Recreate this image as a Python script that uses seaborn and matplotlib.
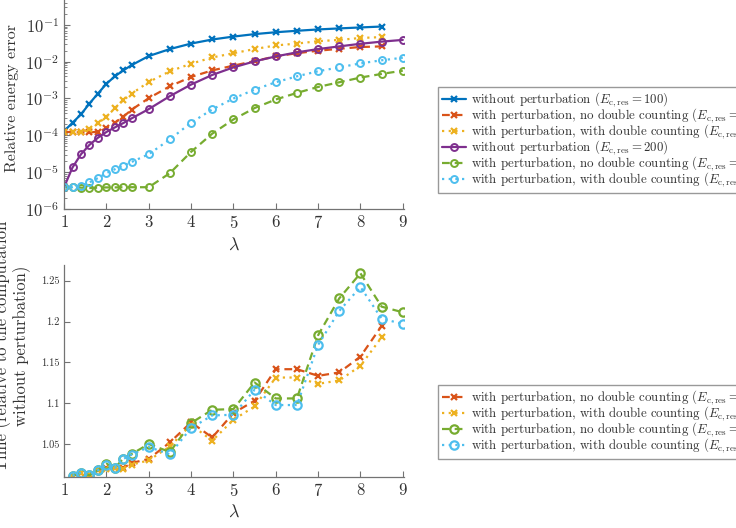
import matplotlib
matplotlib.use("Agg")
import matplotlib.pyplot as plt
import seaborn as sns
import pandas as pd

# Datos
lam = [1, 1.2, 1.4, 1.6, 1.8, 2, 2.2, 2.4, 2.6, 3, 3.5, 4, 4.5, 5, 5.5, 6, 6.5, 7, 7.5, 8, 8.5, 9]

err_sin_100 = [1.3e-4, 2.2e-4, 3.7e-4, 7.3e-4, 1.36e-3, 2.5e-3, 4.0e-3, 5.8e-3, 8.1e-3, 1.42e-2, 2.2e-2,
               3.1e-2, 4.0e-2, 4.8e-2, 5.6e-2, 6.3e-2, 6.9e-2, 7.5e-2, 8.0e-2, 8.5e-2, 9.0e-2]
err_nodc_100 = [1.23e-4, 1.23e-4, 1.2e-4, 1.2e-4, 1.25e-4, 1.55e-4, 2.2e-4, 3.2e-4, 5.0e-4, 1.02e-3, 2.15e-3,
                3.85e-3, 5.8e-3, 7.8e-3, 1.04e-2, 1.39e-2, 1.7e-2, 1.98e-2, 2.24e-2, 2.5e-2, 2.6e-2]
err_dc_100 = [1.23e-4, 1.23e-4, 1.23e-4, 1.45e-4, 2.1e-4, 3.2e-4, 5.4e-4, 9.0e-4, 1.36e-3, 2.8e-3, 5.5e-3,
              8.8e-3, 1.3e-2, 1.7e-2, 2.2e-2, 2.76e-2, 3.1e-2, 3.6e-2, 3.9e-2, 4.4e-2, 4.65e-2]
err_sin_200 = [3.9e-6, 1.34e-5, 3.06e-5, 5.5e-5, 8.6e-5, 1.23e-4, 1.64e-4, 2.15e-4, 2.9e-4, 5.15e-4, 1.16e-3,
               2.39e-3, 4.36e-3, 7.0e-3, 1.02e-2, 1.39e-2, 1.79e-2, 2.2e-2, 2.6e-2, 3.06e-2, 3.5e-2, 3.9e-2]
err_nodc_200 = [3.9e-6, 3.85e-6, 3.8e-6, 3.7e-6, 3.8e-6, 3.85e-6, 3.85e-6, 3.9e-6, 3.9e-6, 3.9e-6, 9.4e-6,
                3.55e-5, 1.11e-4, 2.7e-4, 5.5e-4, 9.4e-4, 1.42e-3, 2.06e-3, 2.76e-3, 3.7e-3, 4.65e-3, 5.7e-3]
err_dc_200 = [3.9e-6, 3.9e-6, 4.27e-6, 5.25e-6, 6.9e-6, 9.4e-6, 1.2e-5, 1.51e-5, 1.9e-5, 3.06e-5, 7.8e-5,
              2.2e-4, 5.05e-4, 1.0e-3, 1.75e-3, 2.76e-3, 4.0e-3, 5.5e-3, 7.0e-3, 9.0e-3, 1.09e-2, 1.28e-2]

lam_t = lam[1:]
t_nodc_100 = [1.0113, 1.0146, 1.0117, 1.0178, 1.021, 1.0207, 1.0207, 1.0268, 1.0317, 1.052, 1.0765,
              1.058, 1.0879, 1.103, 1.1416, 1.1416, 1.1335, 1.1376, 1.1571, 1.1946]
t_dc_100 = [1.0113, 1.0146, 1.0117, 1.0178, 1.020, 1.0205, 1.0195, 1.0247, 1.030, 1.047, 1.0736,
            1.054, 1.0797, 1.096, 1.1314, 1.1314, 1.1237, 1.1278, 1.1457, 1.1807]
t_nodc_200 = [1.0113, 1.0146, 1.0117, 1.0178, 1.026, 1.0207, 1.0321, 1.0378, 1.050, 1.0402, 1.0757,
              1.0919, 1.0928, 1.1253, 1.1058, 1.1058, 1.1832, 1.2284, 1.259, 1.2182, 1.2113]
t_dc_200 = [1.0113, 1.0146, 1.0117, 1.0178, 1.0247, 1.0207, 1.0317, 1.037, 1.0463, 1.0374, 1.0696,
            1.085, 1.0858, 1.1164, 1.0977, 1.0977, 1.1714, 1.213, 1.2423, 1.2036, 1.197]

yticks_err = [1e-6, 1e-5, 1e-4, 1e-3, 1e-2, 1e-1]
yticks_t = [1.05, 1.1, 1.15, 1.2, 1.25]
yticklabels_t = ["1.05", "1.1", "1.15", "1.2", "1.25"]

lbl_sin_100 = r"without perturbation ($E_{\mathrm{c,res}} = 100$)"
lbl_nodc_100 = r"with perturbation, no double counting ($E_{\mathrm{c,res}} = 100$)"
lbl_dc_100 = r"with perturbation, with double counting ($E_{\mathrm{c,res}} = 100$)"
lbl_sin_200 = r"without perturbation ($E_{\mathrm{c,res}} = 200$)"
lbl_nodc_200 = r"with perturbation, no double counting ($E_{\mathrm{c,res}} = 200$)"
lbl_dc_200 = r"with perturbation, with double counting ($E_{\mathrm{c,res}} = 200$)"

azul, rojo, amarillo = "#0072BD", "#D95319", "#EDB120"
morado, verde, celeste = "#7E2F8E", "#77AC30", "#4DBEEE"
guion = (0, (3.5, 2.2))
punto = (0, (1, 2))

sns.set_theme(style="ticks")
plt.rcParams["font.family"] = ["cmr10", "DejaVu Serif"]
plt.rcParams["mathtext.fontset"] = "cm"
plt.rcParams["axes.formatter.use_mathtext"] = True
plt.rcParams["axes.unicode_minus"] = False

gris = "0.45"
texto = "0.2"

fig = plt.figure(figsize=(7.36, 5.28), dpi=100)
ax1 = fig.add_axes([0.087, 0.6042, 0.462, 0.4185])
ax2 = fig.add_axes([0.087, 0.0966, 0.462, 0.4015])


def serie(ax, x, y, color, ls, marker, label, ms, mew):
    df = pd.DataFrame({"x": x, "y": y})
    sns.lineplot(data=df, x="x", y="y", ax=ax, color=color, linestyle=ls, marker=marker,
                 markersize=ms, markeredgecolor=color, markerfacecolor="none",
                 markeredgewidth=mew, linewidth=1.6, label=label, legend=False)


# Gráfica superior: error relativo
serie(ax1, lam[:21], err_sin_100, azul, "-", "x", lbl_sin_100, 4, 1.6)
serie(ax1, lam[:21], err_nodc_100, rojo, guion, "x", lbl_nodc_100, 4, 1.6)
serie(ax1, lam[:21], err_dc_100, amarillo, punto, "x", lbl_dc_100, 4, 1.6)
serie(ax1, lam, err_sin_200, morado, "-", "o", lbl_sin_200, 5, 1.4)
serie(ax1, lam, err_nodc_200, verde, guion, "o", lbl_nodc_200, 5, 1.4)
serie(ax1, lam, err_dc_200, celeste, punto, "o", lbl_dc_200, 5, 1.4)
ax1.set_yscale("log")
ax1.set_ylim(1e-6, 1)
ax1.set_yticks(yticks_err)
ax1.set_xlim(1, 9.03)
ax1.set_ylabel("Relative energy error", fontsize=11.5, color=texto)
ax1.set_xlabel(r"$\lambda$", fontsize=13, color=texto)

# Gráfica inferior: tiempo relativo
serie(ax2, lam_t[:20], t_nodc_100, rojo, guion, "x", lbl_nodc_100, 4.5, 1.6)
serie(ax2, lam_t[:20], t_dc_100, amarillo, punto, "x", lbl_dc_100, 4.5, 1.6)
serie(ax2, lam_t, t_nodc_200, verde, guion, "o", lbl_nodc_200, 6, 1.6)
serie(ax2, lam_t, t_dc_200, celeste, punto, "o", lbl_dc_200, 6, 1.6)
ax2.set_ylim(1.0096, 1.2692)
ax2.set_xlim(1, 9.03)
ax2.set_yticks(yticks_t)
ax2.set_yticklabels(yticklabels_t)
ax2.set_ylabel("Time (relative to the computation\nwithout perturbation)", fontsize=12,
               color=texto, linespacing=1.1)
ax2.set_xlabel(r"$\lambda$", fontsize=13, color=texto)
ax2.tick_params(axis="y", labelsize=7.5)
ax2.yaxis.set_label_coords(-0.1, 0.62)
ax1.yaxis.set_label_coords(-0.132, 0.5)

for ax in (ax1, ax2):
    ax.set_xticks(range(1, 10))
    sns.despine(ax=ax)
    for s in ("left", "bottom"):
        ax.spines[s].set_color(gris)
        ax.spines[s].set_linewidth(0.9)
    ax.tick_params(which="both", direction="in", color=gris, labelcolor=texto)
    ax.tick_params(which="major", length=4, width=0.8)
    ax.tick_params(which="minor", length=2.2, width=0.6)
    ax.tick_params(axis="x", labelsize=12)
ax1.tick_params(axis="y", which="major", labelsize=12)
ax2.xaxis.labelpad = 3

leg_kw = dict(loc="upper left", fontsize=9.3, frameon=True, fancybox=False, framealpha=1,
              edgecolor="0.6", handlelength=1.9, labelspacing=-0.2, borderpad=0.3,
              handletextpad=0.35, borderaxespad=0, labelcolor=texto)
h1, l1 = ax1.get_legend_handles_labels()
fig.legend(h1, l1, bbox_to_anchor=(0.595, 0.836), **leg_kw)
h2, l2 = ax2.get_legend_handles_labels()
fig.legend(h2, l2, bbox_to_anchor=(0.595, 0.271), **leg_kw)

fig.savefig("out.png", dpi=100)
